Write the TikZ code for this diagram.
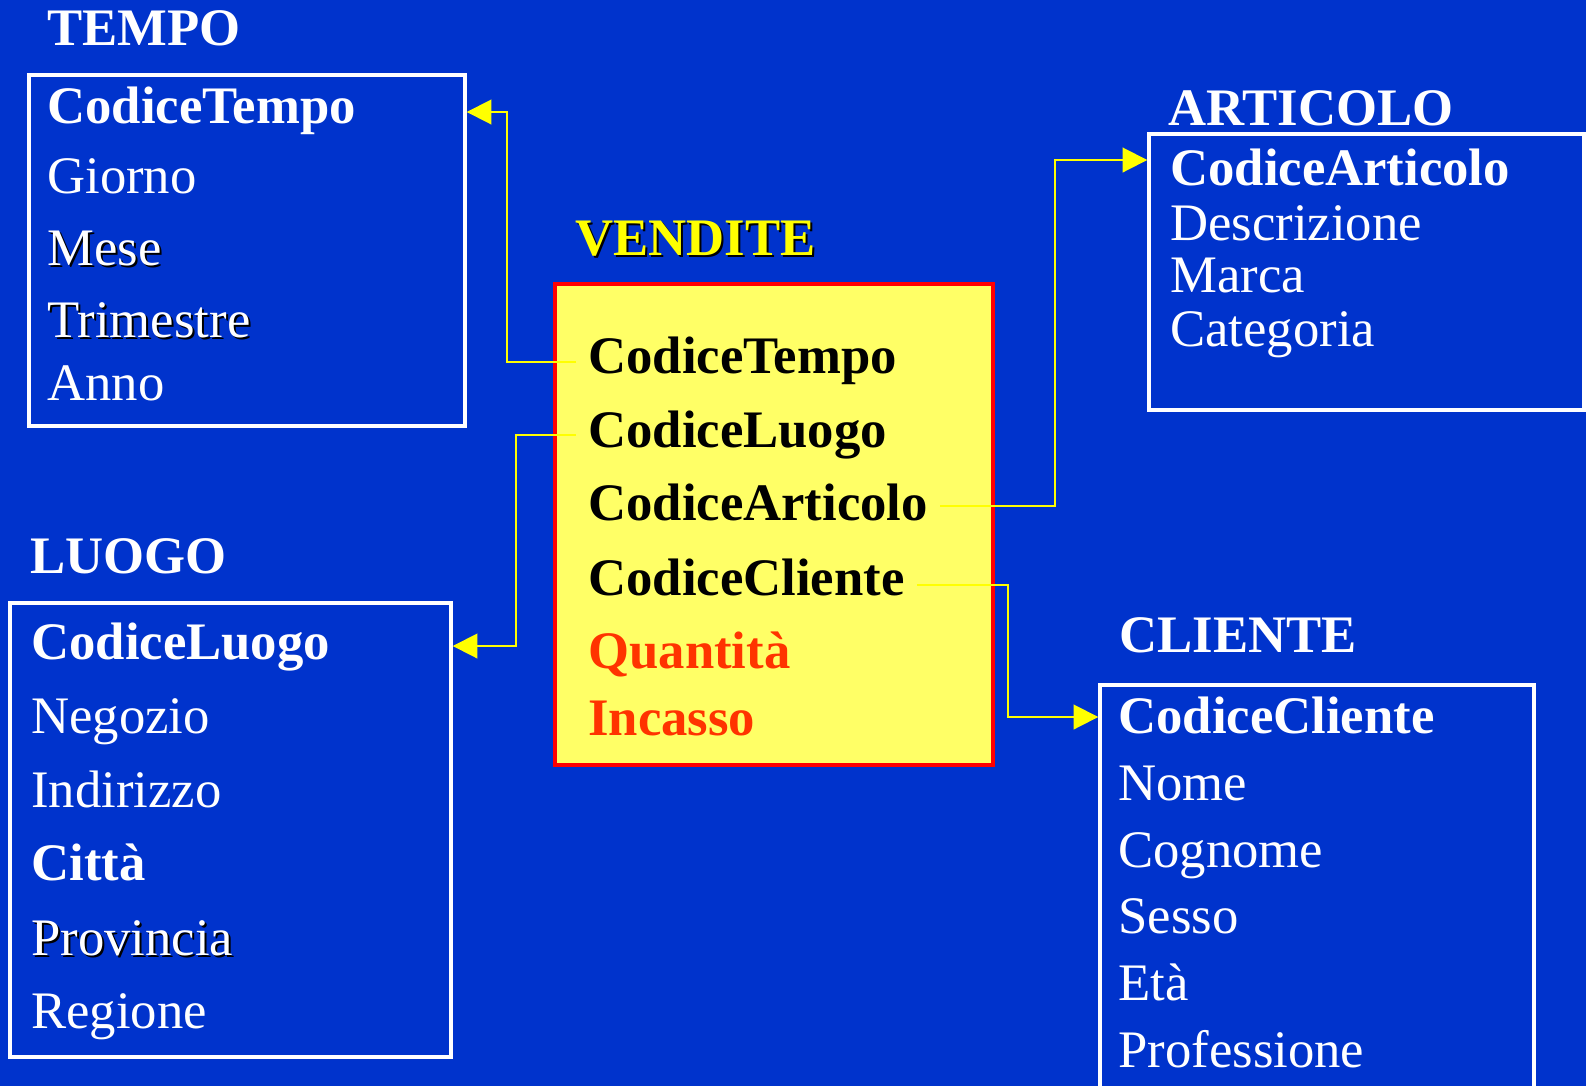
\documentclass[tikz,border=0pt]{standalone}
\usepackage{fontspec}
\setmainfont{Liberation Serif}
\usetikzlibrary{positioning}
\usetikzlibrary{arrows.meta}
\definecolor{bgblue}{RGB}{0,51,204}
\definecolor{factfill}{RGB}{255,255,102}
\definecolor{measred}{RGB}{255,51,0}
\definecolor{linkyellow}{RGB}{255,255,0}
\newcommand{\bigtxt}{\fontsize{30}{36}\selectfont}
\tikzset{entity/.style={rectangle,draw=white,line width=2pt,inner sep=0pt},
  attr/.style={anchor=base west,inner sep=0pt,text=white,font=\bigtxt},
  key/.style={attr,font=\bigtxt\bfseries},
  shade/.style={attr,text=black},
  fkey/.style={anchor=base west,inner xsep=0.24cm,inner ysep=0pt,font=\bigtxt\bfseries},
  link/.style={draw=linkyellow,line width=1.1pt,-{Triangle[length=14pt,width=14pt]}} }

\begin{document}
\begin{tikzpicture}[x=0.02cm,y=-0.02cm]
  \clip (0,0) rectangle (1586,1086);
  \fill[bgblue] (0,0) rectangle (1586,1086);

  % boxes
  \node[entity,minimum width=8.72cm,minimum height=7.02cm] (tempo) at (247,250.5) {};
  \node[entity,minimum width=8.82cm,minimum height=9.08cm] (luogo) at (230.5,830) {};
  \node[rectangle,draw=red,fill=factfill,line width=2.3pt,minimum width=8.76cm,minimum height=9.62cm] (vendite) at (774,524.5) {};
  \node[entity,minimum width=8.7cm,minimum height=5.52cm] (articolo) at (1366.5,272) {};
  \node[entity,minimum width=8.68cm,minimum height=8.7cm] (cliente) at (1317,902.5) {};

  % TEMPO
  \node[key] (tt) at (47,45) {TEMPO};
  \node[key] (t1) at (47,123) {CodiceTempo};
  \node[attr] (t2) at (47,193) {Giorno};
  \node[shade] (t3s) at (49,267) {Mese};
  \node[attr] (t3) at (47,265) {Mese};
  \node[shade] (t4s) at (49,339) {Trimestre};
  \node[attr] (t4) at (47,337) {Trimestre};
  \node[attr] (t5) at (47,400) {Anno};

  % LUOGO
  \node[key] (lt) at (30,573) {LUOGO};
  \node[key] (l1) at (31,659) {CodiceLuogo};
  \node[attr] (l2) at (31,733) {Negozio};
  \node[attr] (l3) at (31,807) {Indirizzo};
  \node[key] (l4) at (31,880) {Città};
  \node[shade] (l5s) at (33,957) {Provincia};
  \node[attr] (l5) at (31,955) {Provincia};
  \node[attr] (l6) at (31,1028) {Regione};

  % VENDITE
  \node[key,text=black] (vts) at (577,257) {VENDITE};
  \node[key,text=linkyellow] (vt) at (575,255) {VENDITE};
  \node[fkey] (v1) at (576,373) {CodiceTempo};
  \node[fkey] (v2) at (576,447) {CodiceLuogo};
  \node[fkey] (v3) at (576,520) {CodiceArticolo};
  \node[fkey] (v4) at (576,595) {CodiceCliente};
  \node[fkey,text=measred] (v5) at (576,668) {Quantità};
  \node[fkey,text=measred] (v6) at (576,735) {Incasso};

  % ARTICOLO
  \node[key] (at) at (1168,125) {ARTICOLO};
  \node[key] (a1) at (1170,185) {CodiceArticolo};
  \node[attr] (a2) at (1170,240) {Descrizione};
  \node[attr] (a3) at (1170,292) {Marca};
  \node[attr] (a4) at (1170,346) {Categoria};

  % CLIENTE
  \node[key] (ct) at (1119,652) {CLIENTE};
  \node[key] (c1) at (1118,733) {CodiceCliente};
  \node[attr] (c2) at (1118,800) {Nome};
  \node[attr] (c3) at (1118,867) {Cognome};
  \node[attr] (c4) at (1118,933) {Sesso};
  \node[attr] (c5) at (1118,1000) {Età};
  \node[attr] (c6) at (1118,1067) {Professione};

  % links
  \coordinate (kTmp) at (507,112);
  \coordinate (kLuo) at (516,646);
  \coordinate (kArt) at (1055,160);
  \coordinate (kCli) at (1008,717);
  \draw[link] ([yshift=4pt]v1.mid west) -| (kTmp) -- (tempo.east |- kTmp);
  \draw[link] ([yshift=4.5pt]v2.mid west) -| (kLuo) -- (luogo.east |- kLuo);
  \draw[link] ([yshift=5.5pt]v3.mid east) -| (kArt) -- (articolo.west |- kArt);
  \draw[link] ([yshift=3.5pt]v4.mid east) -| (kCli) -- (cliente.west |- kCli);
\end{tikzpicture}
\end{document}
